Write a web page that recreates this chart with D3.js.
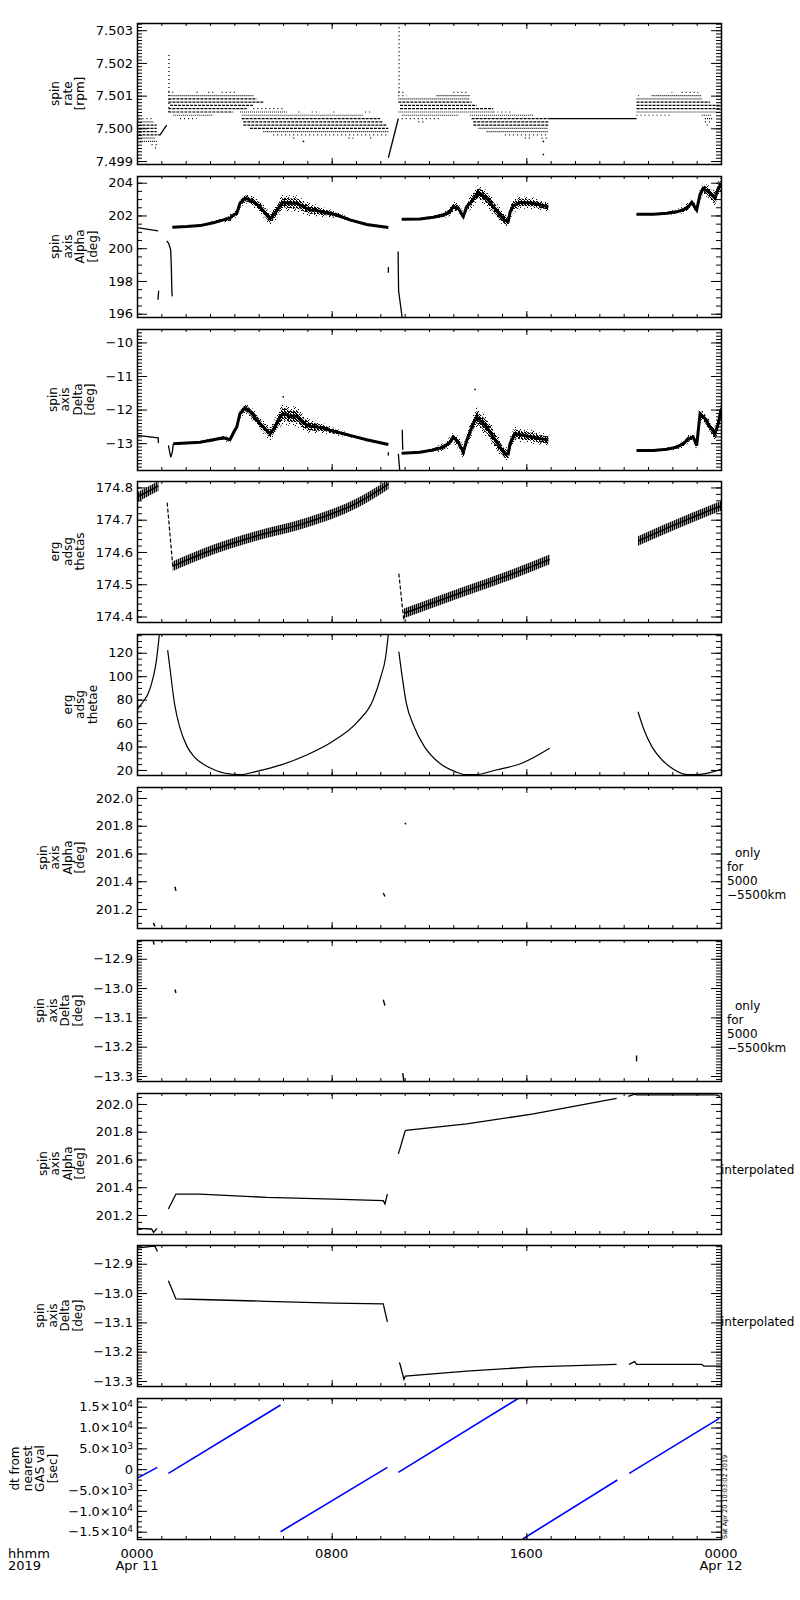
<!DOCTYPE html>
<html><head><meta charset="utf-8">
<script src="https://cdn.jsdelivr.net/npm/d3@7"></script>
<style>
body{margin:0;background:#fff;}
svg{display:block;font-family:"DejaVu Sans",sans-serif;}
</style></head><body>
<svg id="c" width="800" height="1600"></svg>
<script>
// ================= DATA =================
const hourTicks = [0, 8, 16, 24];
const hourTickLabels = ["0000", "0800", "1600", "0000"];
const dateTickLabels = ["Apr 11", "", "", "Apr 12"];
const cornerLabels = ["hhmm", "2019"];
const stampText = "Sat Apr 20 10:03:02 2019";

const panelTitles = [
  ["spin","rate","[rpm]"],
  ["spin","axis","Alpha","[deg]"],
  ["spin","axis","Delta","[deg]"],
  ["erg","adsg","thetas"],
  ["erg","adsg","thetae"],
  ["spin","axis","Alpha","[deg]"],
  ["spin","axis","Delta","[deg]"],
  ["spin","axis","Alpha","[deg]"],
  ["spin","axis","Delta","[deg]"],
  ["dt from","nearest","GAS val","[sec]"]
];
const panelDomains = [[7.49891,7.50322],[195.8,204.41],[-13.8,-9.6],[174.383,174.82],[15.7,136],
  [201.063,202.079],[-13.317,-12.836],[201.063,202.079],[-13.317,-12.836],[-16752,17088]];
const panelTicks = [[7.499,7.500,7.501,7.502,7.503],[196,198,200,202,204],[-13,-12,-11,-10],
  [174.4,174.5,174.6,174.7,174.8],[20,40,60,80,100,120],[201.2,201.4,201.6,201.8,202.0],
  [-13.3,-13.2,-13.1,-13.0,-12.9],[201.2,201.4,201.6,201.8,202.0],[-13.3,-13.2,-13.1,-13.0,-12.9],
  [-15000,-10000,-5000,0,5000,10000,15000]];
const panelMinorDivs = [10,4,10,5,4,4,10,4,10,4];
const panelTickFormats = [".3f","d","d",".1f","d",".1f",".1f",".1f",".1f","sci"];
const panelSideNotes = [null,null,null,null,null,
  ["only","for","5000","−5500km"],["only","for","5000","−5500km"],["interpolated"],["interpolated"],null];

// panel 1: spin rate, quantised rows [startHour, endHour, rpm, density]
const rateRows = [
  [0.06,0.67,7.5003,"s"],[0.06,0.67,7.5002,"m"],[0.06,0.81,7.5001,"d"],[0.06,0.81,7.5000,"d"],
  [0.06,0.81,7.4999,"d"],[0.06,0.81,7.4998,"d"],[0.06,0.74,7.4997,"m"],[0.12,0.81,7.4996,"m"],
  [0.60,0.81,7.4995,"s"],[0.74,0.85,7.4994,"s"],
  [1.29,1.49,7.5011,"s"],[2.45,2.59,7.5011,"s"],[2.93,3.14,7.5011,"s"],[3.48,4.10,7.5011,"s"],
  [1.29,4.78,7.5010,"m"],[1.29,4.92,7.5009,"d"],[1.29,5.19,7.5008,"d"],[1.36,4.78,7.5007,"d"],
  [1.29,4.51,7.5006,"d"],[1.29,3.96,7.5005,"d"],[1.49,3.14,7.5004,"m"],[1.77,2.45,7.5003,"s"],
  [4.78,6.01,7.5006,"s"],[4.23,6.15,7.5005,"m"],[6.63,6.70,7.5005,"s"],[7.18,7.52,7.5005,"s"],
  [8.07,8.15,7.5005,"s"],[9.37,9.64,7.5005,"s"],
  [4.30,9.30,7.5004,"m"],[4.30,9.99,7.5003,"d"],[4.37,10.12,7.5002,"d"],[4.37,10.26,7.5001,"d"],
  [4.64,10.33,7.5000,"d"],[5.19,10.33,7.4999,"m"],[5.60,10.26,7.4998,"s"],
  [6.42,6.56,7.4997,"s"],[8.69,8.89,7.4997,"s"],[9.58,9.71,7.4997,"s"],
  [10.74,10.95,7.5011,"s"],[13.00,13.55,7.5011,"s"],[10.74,11.08,7.5010,"s"],[12.31,13.68,7.5010,"m"],
  [10.74,13.68,7.5009,"m"],[10.74,13.75,7.5008,"d"],[10.81,13.96,7.5007,"d"],[10.81,14.64,7.5006,"d"],
  [10.74,14.64,7.5005,"m"],[14.64,15.47,7.5005,"s"],[10.88,13.21,7.5004,"m"],[10.88,12.52,7.5003,"s"],
  [11.56,11.77,7.5002,"s"],
  [13.68,16.29,7.5004,"m"],[13.75,16.90,7.5003,"d"],[13.82,16.90,7.5002,"d"],[13.82,16.90,7.5001,"d"],
  [14.03,16.90,7.5000,"m"],[14.37,16.90,7.4999,"m"],[15.12,16.90,7.4998,"s"],[15.94,16.22,7.4997,"s"],
  [16.63,16.90,7.4997,"s"],
  [21.97,22.00,7.5011,"s"],[22.38,23.07,7.5011,"s"],[20.60,20.63,7.5010,"s"],[21.15,23.21,7.5010,"m"],
  [20.53,23.21,7.5009,"m"],[20.53,23.55,7.5008,"d"],[20.53,23.96,7.5007,"d"],[20.53,23.96,7.5006,"d"],
  [20.53,23.96,7.5005,"m"],[20.53,21.97,7.5004,"s"],[23.21,23.62,7.5004,"m"],[23.34,23.68,7.5003,"m"],
  [23.34,23.62,7.5002,"s"],[23.41,23.55,7.5001,"s"]
];
const rateLines = [
  [[0.85,7.4998],[0.95,7.4998],[1.22,7.5001]],
  [[10.33,7.4991],[10.74,7.5003]],
  [[16.90,7.5003],[20.53,7.5003]]
];
const rateSpikes = [[1.315,7.5005,7.5023],[10.77,7.5011,7.5031]];
const rateOutliers = [[6.84,7.4996],[16.70,7.4996],[16.70,7.4992]];

// panel 2: spin axis alpha, scatter bands [hour, centre, spread]
const alphaBands = [
  [[1.45,201.28,0.04],[2.04,201.32,0.05],[2.59,201.38,0.07],[3.14,201.56,0.12],[3.55,201.73,0.15],
   [3.82,201.83,0.25],[3.96,202.03,0.2],[4.10,202.13,0.25],[4.23,202.74,0.3],[4.44,203.05,0.3],
   [4.58,202.98,0.3],[4.78,202.84,0.35],[5.05,202.54,0.4],[5.33,202.03,0.4],[5.47,201.8,0.4],
   [5.67,202.13,0.45],[5.88,202.6,0.5],[6.01,202.8,0.5],[6.29,202.74,0.5],[6.56,202.74,0.5],
   [6.83,202.54,0.45],[7.11,202.34,0.4],[7.38,202.3,0.35],[7.66,202.2,0.3],[7.93,202.13,0.25],
   [8.21,202.03,0.2],[8.75,201.73,0.12],[9.44,201.45,0.06],[10.33,201.26,0.03]],
  [[10.88,201.77,0.03],[11.63,201.79,0.05],[12.18,201.89,0.12],[12.59,202.03,0.2],[12.86,202.23,0.25],
   [13.0,202.54,0.3],[13.2,202.44,0.3],[13.41,201.93,0.3],[13.55,202.54,0.35],[13.69,202.74,0.4],
   [13.89,203.15,0.45],[14.03,203.4,0.5],[14.23,203.2,0.5],[14.44,202.94,0.5],[14.64,202.54,0.5],
   [14.92,202.03,0.45],[15.12,201.7,0.4],[15.26,201.65,0.4],[15.33,202.2,0.45],[15.47,202.6,0.45],
   [15.74,202.8,0.4],[16.02,202.78,0.35],[16.29,202.74,0.35],[16.56,202.64,0.3],[16.9,202.54,0.3]],
  [[20.53,202.07,0.03],[21.22,202.07,0.05],[21.77,202.13,0.1],[22.18,202.23,0.15],[22.45,202.34,0.2],
   [22.66,202.54,0.25],[22.8,202.8,0.25],[23.0,202.34,0.3],[23.14,203.3,0.35],[23.27,203.65,0.35],
   [23.48,203.45,0.4],[23.75,203.05,0.45],[23.89,203.65,0.45],[24.0,203.9,0.4]]
];
const alphaLines = [
  [[0,201.26],[0.87,201.06]],
  [[0.86,196.85],[0.88,197.2],[0.89,197.4]],
  [[1.22,200.45],[1.30,200.3],[1.385,199.9],[1.41,198.9],[1.435,197.3],[1.45,197.06]],
  [[10.33,198.85],[10.33,198.5]],
  [[10.73,199.8],[10.75,197.4],[10.85,196.3],[10.92,195.5]]
];

// panel 3: spin axis delta
const deltaBands = [
  [[1.49,-13.02,0.02],[2.59,-12.97,0.03],[3.14,-12.90,0.06],[3.55,-12.84,0.08],[3.82,-12.9,0.1],
   [3.96,-12.7,0.1],[4.10,-12.52,0.12],[4.23,-12.12,0.15],[4.44,-11.95,0.15],[4.58,-12.02,0.15],
   [4.78,-12.17,0.18],[5.05,-12.42,0.2],[5.33,-12.62,0.2],[5.47,-12.72,0.2],[5.67,-12.52,0.25],
   [5.88,-12.22,0.3],[6.01,-12.12,0.3],[6.29,-12.2,0.3],[6.56,-12.2,0.3],[6.83,-12.4,0.25],
   [7.11,-12.5,0.2],[7.38,-12.52,0.18],[7.66,-12.55,0.15],[7.93,-12.62,0.12],[8.21,-12.67,0.1],
   [8.75,-12.77,0.06],[9.44,-12.90,0.04],[10.33,-13.04,0.02]],
  [[10.88,-13.30,0.02],[11.63,-13.27,0.04],[12.18,-13.20,0.08],[12.59,-13.12,0.12],[12.86,-12.97,0.15],
   [13.0,-12.82,0.15],[13.2,-12.97,0.18],[13.41,-13.27,0.2],[13.55,-12.92,0.2],[13.76,-12.52,0.25],
   [13.96,-12.22,0.3],[14.17,-12.37,0.3],[14.37,-12.52,0.3],[14.64,-12.82,0.3],[14.92,-13.12,0.25],
   [15.12,-13.32,0.2],[15.26,-13.32,0.2],[15.33,-13.02,0.22],[15.53,-12.72,0.22],[15.88,-12.77,0.2],
   [16.29,-12.82,0.2],[16.56,-12.87,0.18],[16.9,-12.90,0.18]],
  [[20.53,-13.22,0.02],[21.22,-13.22,0.03],[21.77,-13.18,0.05],[22.18,-13.12,0.08],[22.45,-13.02,0.1],
   [22.66,-12.87,0.12],[22.86,-12.82,0.12],[23.0,-13.07,0.15],[23.14,-12.12,0.15],[23.34,-12.27,0.2],
   [23.55,-12.52,0.2],[23.75,-12.72,0.2],[23.89,-12.42,0.25],[24.0,-12.0,0.25]]
];
const deltaLines = [
  [[0,-12.77],[0.87,-12.84],[0.88,-13.0]],
  [[1.29,-13.07],[1.385,-13.42],[1.45,-13.27],[1.49,-13.02]],
  [[10.33,-13.27],[10.33,-13.37]],
  [[10.74,-13.32],[10.80,-13.85]],
  [[10.90,-12.6],[10.92,-13.2]]
];
const deltaOutliers = [[13.89,-11.4],[6.01,-11.62]];

// panel 4: erg adsg thetas (band centre)
const thetasBands = [
  [[0,174.769],[0.88,174.805]],
  [[1.47,174.556],[2.77,174.597],[4.87,174.649],[6.97,174.691],[9.08,174.753],[10.34,174.81]],
  [[10.97,174.41],[13.28,174.473],[15.38,174.53],[16.96,174.577]],
  [[20.59,174.634],[22.32,174.691],[24,174.743]]
];
const thetasHalfWidth = 0.015;
const thetasLinks = [[[1.24,174.753],[1.47,174.556]],[[10.76,174.533],[10.97,174.384]]];

// panel 5: erg adsg thetae
const thetaeCurves = [
  [[0,71.1],[0.25,78.2],[0.46,85.3],[0.67,99.5],[0.78,110.9],[0.88,128],[0.92,136]],
  [[1.26,122.3],[1.33,110.9],[1.54,76.8],[1.75,56.9],[2.06,39.9],[2.37,30.8],[2.78,24.3],[3.2,20],
   [3.61,17.2],[4.25,16.0],[4.87,18.6],[5.92,24.3],[6.97,32.8],[8.02,44.1],[9.07,61.2],[9.70,79.7],
   [10.02,99.5],[10.22,116.6],[10.33,136]],
  [[10.76,120.9],[10.86,105.2],[11.07,76.8],[11.39,56.9],[11.81,39.9],[12.44,25.7],[13.07,18.6],
   [13.49,16.0],[13.91,16.0],[14.75,20],[15.81,25.7],[16.96,38.5]],
  [[20.59,69.7],[20.84,54.1],[21.16,39.9],[21.58,28.5],[22.10,20],[22.63,16],[23.15,16.3],[24,20.6]]
];

// panels 6/7: only for 5000-5500 km
const alphaOnly = [[[0.67,201.10],[0.74,201.075]],[[1.56,201.36],[1.60,201.33]],
  [[10.12,201.315],[10.19,201.29]],[[11.01,201.82],[11.05,201.81]]];
const deltaOnly = [[[0.67,-12.84],[0.70,-12.852]],[[1.56,-13.005],[1.60,-13.017]],
  [[10.12,-13.04],[10.19,-13.06]],[[10.92,-13.29],[10.97,-13.32]],[[20.53,-13.23],[20.53,-13.25]]];

// panels 8/9: interpolated
const alphaInterp = [
  [[0,201.104],[0.6,201.099],[0.68,201.075],[0.82,201.104]],
  [[1.29,201.243],[1.60,201.351],[2.59,201.351],[5.33,201.327],[8.07,201.315],[10.12,201.303],[10.19,201.28],[10.29,201.35]],
  [[10.74,201.64],[10.81,201.68],[11.01,201.80],[11.05,201.81],[13.55,201.856],[16.29,201.928],[19.71,202.04]],
  [[20.19,202.055],[20.45,202.07],[20.53,202.065],[23.8,202.065],[23.96,202.055]]
];
const deltaInterp = [
  [[0,-12.847],[0.6,-12.841],[0.74,-12.841],[0.84,-12.858]],
  [[1.29,-12.958],[1.60,-13.02],[2.59,-13.022],[5.33,-13.028],[8.07,-13.034],[10.12,-13.037],[10.29,-13.098]],
  [[10.78,-13.237],[10.81,-13.243],[10.97,-13.294],[11.03,-13.283],[13.55,-13.266],[16.29,-13.252],[19.71,-13.243]],
  [[20.22,-13.243],[20.45,-13.234],[20.53,-13.243],[23.2,-13.243],[23.3,-13.249],[24,-13.249]]
];

// panel 10: dt from nearest GAS val [sec]
const dtLines = [
  [[0,-2200],[0.835,440]],
  [[1.29,-1000],[5.9,15400]],
  [[5.9,-15000],[10.29,440]],
  [[10.74,-760],[15.77,17348]],
  [[15.85,-16760],[19.74,-2600]],
  [[20.23,-1000],[23.93,12200]]
];

// ================= LAYOUT =================
const X0 = 137, X1 = 721, TOP0 = 23, PITCH = 152.8, PH = 141;
const x = d3.scaleLinear().domain([0,24]).range([X0,X1]);
const svg = d3.select("#c");
const defs = svg.append("defs");

function pattern(id,w,h,cells){
  const p = defs.append("pattern").attr("id",id).attr("width",w).attr("height",h).attr("patternUnits","userSpaceOnUse");
  cells.forEach(c=>p.append("rect").attr("x",c[0]).attr("y",c[1]).attr("width",c[2]||1).attr("height",c[3]||1).attr("fill","#000"));
}
pattern("scatSparse",7,6,[[0,0],[4,1],[2,3],[6,4],[1,5]]);
pattern("scatDense",3,3,[[0,0],[1,1],[2,2],[2,0],[0,1]]);
pattern("hatch",2,10,[[0,0,1.4,10]]);

const dens = {d:"3,1", m:"1,1", s:"1,3"};

function drawLines(sel,y,lines,opt){
  opt = opt || {};
  const lg = d3.line().x(d=>x(d[0])).y(d=>y(d[1])).curve(opt.curve || d3.curveLinear);
  lines.forEach(l=>sel.append("path").attr("d",lg(l)).attr("fill","none")
    .attr("stroke",opt.color||"#000").attr("stroke-width",opt.width||1.2)
    .attr("stroke-dasharray",opt.dash||null));
}
function drawScatterBand(sel,y,pts){
  const outer = d3.area().x(d=>x(d[0])).y0(d=>y(d[1]-d[2])).y1(d=>y(d[1]+d[2]));
  const inner = d3.area().x(d=>x(d[0])).y0(d=>y(d[1]-d[2]*0.6)).y1(d=>y(d[1]+d[2]*0.6));
  sel.append("path").attr("d",outer(pts)).attr("fill","url(#scatSparse)");
  sel.append("path").attr("d",inner(pts)).attr("fill","url(#scatDense)");
  drawLines(sel,y,[pts],{width:3});
}
function drawDots(sel,y,pts){
  pts.forEach(p=>sel.append("rect").attr("x",x(p[0])-0.75).attr("y",y(p[1])-0.75).attr("width",1.5).attr("height",1.5).attr("fill","#000"));
}

const drawers = [
  (s,y)=>{
    rateRows.forEach(r=>s.append("line").attr("x1",x(r[0])).attr("x2",x(r[1]))
      .attr("y1",y(r[2])).attr("y2",y(r[2])).attr("stroke","#000").attr("stroke-width",1.2)
      .attr("stroke-dasharray",dens[r[3]]));
    drawLines(s,y,rateLines,{width:1.3});
    rateSpikes.forEach(r=>s.append("line").attr("x1",x(r[0])).attr("x2",x(r[0]))
      .attr("y1",y(r[1])).attr("y2",y(r[2])).attr("stroke","#000").attr("stroke-width",1.3).attr("stroke-dasharray","1,3"));
    drawDots(s,y,rateOutliers);
  },
  (s,y)=>{ alphaBands.forEach(b=>drawScatterBand(s,y,b)); drawLines(s,y,alphaLines,{width:1.3}); },
  (s,y)=>{ deltaBands.forEach(b=>drawScatterBand(s,y,b)); drawLines(s,y,deltaLines,{width:1.3}); drawDots(s,y,deltaOutliers); },
  (s,y)=>{
    const a = d3.area().x(d=>x(d[0])).y0(d=>y(d[1]-thetasHalfWidth)).y1(d=>y(d[1]+thetasHalfWidth)).curve(d3.curveMonotoneX);
    thetasBands.forEach(b=>s.append("path").attr("d",a(b)).attr("fill","url(#hatch)"));
    drawLines(s,y,thetasBands,{width:1.5,curve:d3.curveMonotoneX});
    drawLines(s,y,thetasLinks,{width:1.2,dash:"4,2"});
  },
  (s,y)=>drawLines(s,y,thetaeCurves,{width:1.2,curve:d3.curveMonotoneX}),
  (s,y)=>drawLines(s,y,alphaOnly,{width:1.4}),
  (s,y)=>drawLines(s,y,deltaOnly,{width:1.4}),
  (s,y)=>drawLines(s,y,alphaInterp,{width:1.3}),
  (s,y)=>drawLines(s,y,deltaInterp,{width:1.3}),
  (s,y)=>drawLines(s,y,dtLines,{width:1.6,color:"#0000ff"})
];

function sciParts(v){
  if (v===0) return ["0",null];
  const e = Math.floor(Math.log10(Math.abs(v)) + 1e-9);
  const m = Math.abs(v)/Math.pow(10,e);
  return [(v<0?"−":"")+m.toFixed(1)+"×10", String(e)];
}
function minorValues(dom,ticks,div){
  const step = (ticks[1]-ticks[0])/div;
  const lo = Math.min(dom[0],dom[1]), hi = Math.max(dom[0],dom[1]);
  const out = [];
  for (let i=Math.ceil(lo/step-1e-9); i<=Math.floor(hi/step+1e-9); i++) out.push(+(i*step).toFixed(8));
  return out;
}
const clean = g=>g.select(".domain").remove();
const hours = d3.range(0,25);

panelTitles.forEach((title,i)=>{
  const top = Math.round(TOP0 + i*PITCH), bottom = top + PH;
  const y = d3.scaleLinear().domain(panelDomains[i]).range([bottom,top]);
  defs.append("clipPath").attr("id","clip"+i).append("rect")
    .attr("x",X0).attr("y",top).attr("width",X1-X0).attr("height",PH);
  const g = svg.append("g");
  const dg = g.append("g").attr("clip-path",`url(#clip${i})`);
  drawers[i](dg,y);

  g.append("rect").attr("x",X0+0.5).attr("y",top+0.5).attr("width",X1-X0).attr("height",PH)
    .attr("fill","none").attr("stroke","#000").attr("stroke-width",1.5);

  [[d3.axisBottom,bottom],[d3.axisTop,top]].forEach(([ax,pos])=>{
    g.append("g").attr("transform",`translate(0,${pos})`).call(ax(x).tickValues(hours).tickSize(-3).tickFormat("")).call(clean);
    g.append("g").attr("transform",`translate(0,${pos})`).call(ax(x).tickValues(hourTicks).tickSize(-6).tickFormat("")).call(clean);
  });

  const minors = minorValues(panelDomains[i],panelTicks[i],panelMinorDivs[i]);
  const fmtKey = panelTickFormats[i];
  const fmt = fmtKey==="sci" ? (d=>"") : d3.format(fmtKey);
  g.append("g").attr("transform",`translate(${X0},0)`).call(d3.axisLeft(y).tickValues(minors).tickSize(-5).tickFormat("")).call(clean);
  g.append("g").attr("transform",`translate(${X1},0)`).call(d3.axisRight(y).tickValues(minors).tickSize(-5).tickFormat("")).call(clean);
  g.append("g").attr("transform",`translate(${X1},0)`).call(d3.axisRight(y).tickValues(panelTicks[i]).tickSize(-10).tickFormat("")).call(clean);
  const la = g.append("g").attr("transform",`translate(${X0},0)`)
    .call(d3.axisLeft(y).tickValues(panelTicks[i]).tickSize(-10).tickPadding(4).tickFormat(fmt)).call(clean);
  la.attr("font-size",13).attr("font-family","DejaVu Sans");
  la.selectAll("text").attr("fill","#000");
  if (fmtKey==="sci"){
    la.selectAll("text").each(function(d){
      const t = d3.select(this); const [base,sup] = sciParts(d);
      t.text(null); t.append("tspan").text(base);
      if (sup) t.append("tspan").attr("dy","-0.5em").attr("font-size",9).text(sup);
    });
  }
  let minX = Infinity;
  la.selectAll("text").each(function(){ minX = Math.min(minX, this.getBBox().x); });
  const labelLeft = X0 + minX;

  const cy = (top+bottom)/2, right = labelLeft - 11.5, n = title.length;
  title.forEach((t,j)=>{
    const bx = right - (n-1-j)*12.5;
    g.append("text").attr("x",bx).attr("y",cy).attr("transform",`rotate(-90,${bx},${cy})`)
      .attr("text-anchor","middle").attr("font-size",12).attr("fill","#000").text(t);
  });

  const note = panelSideNotes[i];
  if (note && note.length>1){
    note.forEach((t,j)=>g.append("text").attr("x",j===0?735:727).attr("y",top+70+j*14)
      .attr("font-size",12).attr("fill","#000").text(t));
  } else if (note){
    g.append("text").attr("x",X1).attr("y",top+81).attr("font-size",12).attr("fill","#000").text(note[0]);
  }
});

const lastBottom = Math.round(TOP0 + 9*PITCH) + PH;
hourTicks.forEach((h,k)=>{
  svg.append("text").attr("x",x(h)).attr("y",lastBottom+19).attr("text-anchor","middle")
    .attr("font-size",13).attr("fill","#000").text(hourTickLabels[k]);
  if (dateTickLabels[k]) svg.append("text").attr("x",x(h)).attr("y",lastBottom+31).attr("text-anchor","middle")
    .attr("font-size",13).attr("fill","#000").text(dateTickLabels[k]);
});
cornerLabels.forEach((t,k)=>svg.append("text").attr("x",8).attr("y",lastBottom+19+k*12)
  .attr("font-size",13).attr("fill","#000").text(t));

svg.append("text").attr("x",727).attr("y",lastBottom).attr("transform",`rotate(-90,727,${lastBottom})`)
  .attr("font-size",6.5).attr("fill","#000").text(stampText);
</script>
</body></html>
